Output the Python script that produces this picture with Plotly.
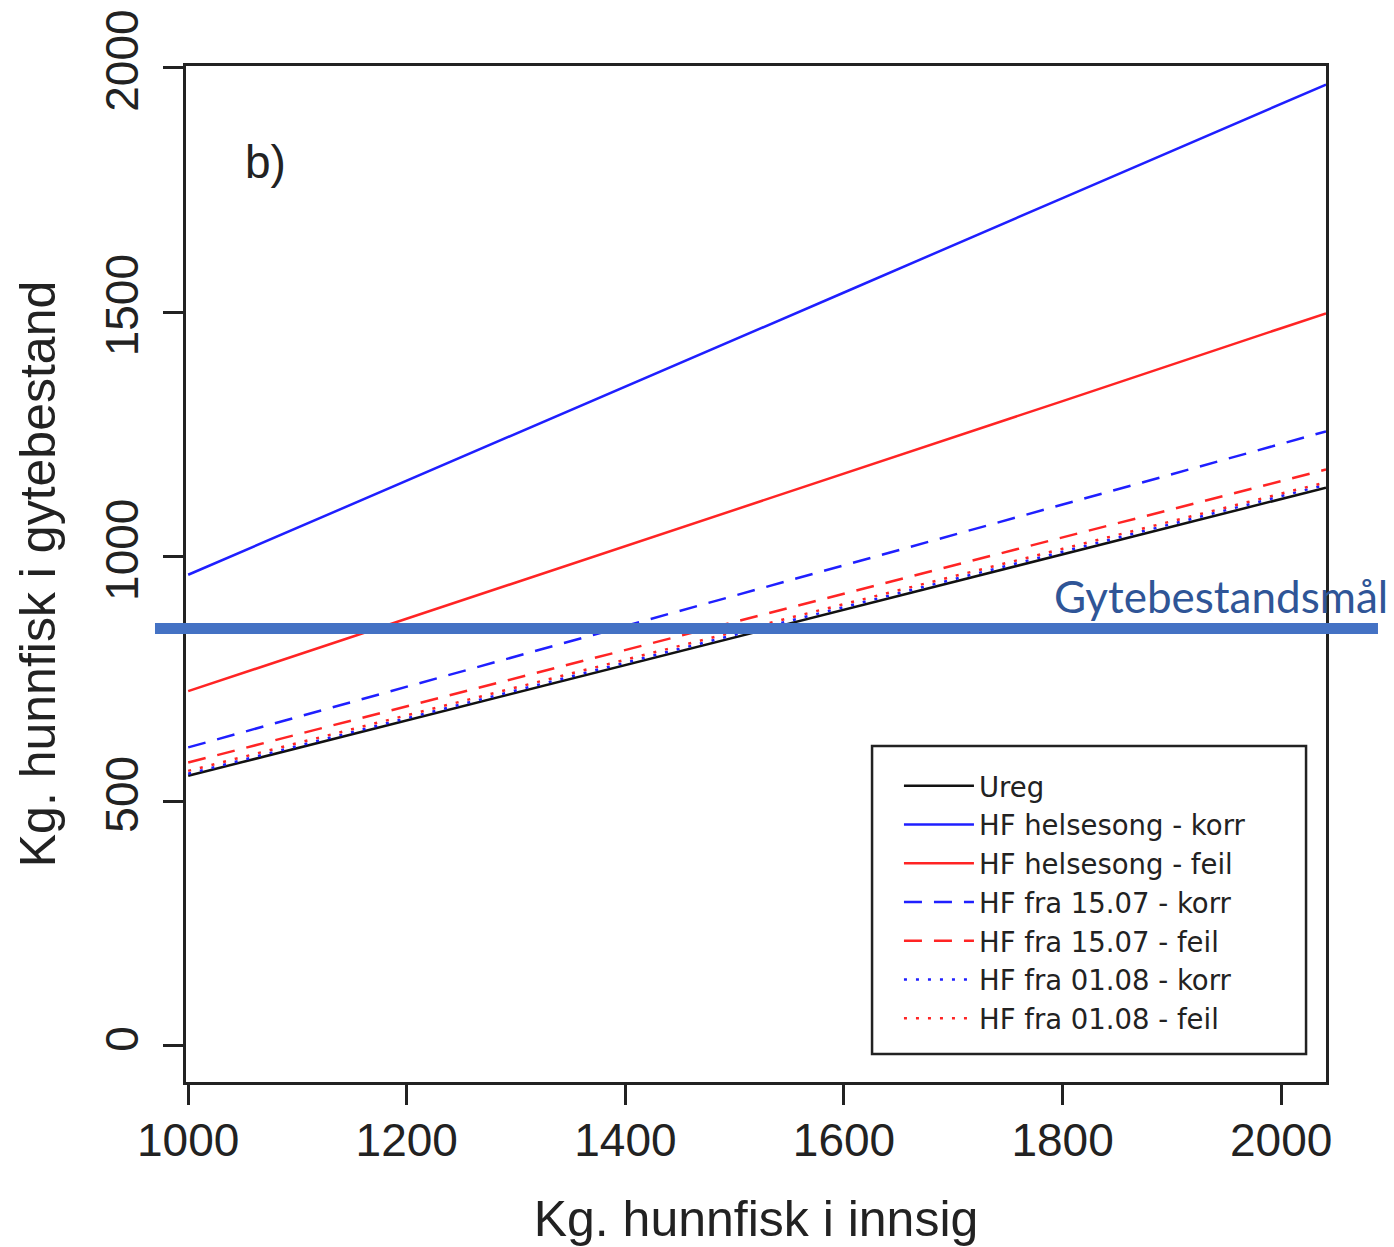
import plotly.graph_objects as go

# ---- data ----
x_innsig = [1000, 1200, 1400, 1600, 1800, 2000, 2041]
ureg = [552, 665, 778, 892, 1005, 1118, 1141]
hf_hel_korr = [963, 1155, 1348, 1540, 1733, 1925, 1965]
hf_hel_feil = [725, 873, 1022, 1170, 1318, 1467, 1497]
hf_1507_korr = [610, 734, 858, 983, 1107, 1231, 1256]
hf_1507_feil = [579, 694, 809, 924, 1039, 1155, 1178]
hf_0108_korr = [556, 670, 783, 897, 1010, 1124, 1147]
hf_0108_feil = [562, 676, 789, 903, 1016, 1130, 1152]
gytebestandsmaal = 853

series_names = ["Ureg", "HF helsesong - korr", "HF helsesong - feil",
                "HF fra 15.07 - korr", "HF fra 15.07 - feil",
                "HF fra 01.08 - korr", "HF fra 01.08 - feil"]
series_values = [ureg, hf_hel_korr, hf_hel_feil, hf_1507_korr, hf_1507_feil,
                 hf_0108_korr, hf_0108_feil]
x_ticks = [1000, 1200, 1400, 1600, 1800, 2000]
y_ticks = [0, 500, 1000, 1500, 2000]

BLUE = "#1f1fff"
RED = "#ff2424"
styles = [("#111111", "solid"), (BLUE, "solid"), (RED, "solid"),
          (BLUE, "18px,12px"), (RED, "18px,12px"),
          (BLUE, "3px,9px"), (RED, "3px,9px")]

fig = go.Figure()
for name, vals, (col, dash) in zip(series_names, series_values, styles):
    fig.add_trace(go.Scatter(x=x_innsig, y=vals, mode="lines", name=name,
                             line=dict(color=col, width=2.5, dash=dash)))

FONT = "Liberation Sans, Arial, sans-serif"
INK = "#222222"

fig.update_layout(
    width=1394, height=1247,
    margin=dict(l=186, r=68, t=66, b=165),
    paper_bgcolor="white", plot_bgcolor="white",
    font=dict(family=FONT, color=INK),
    showlegend=True,
    legend=dict(x=0.6254, y=0.1767, xanchor="left", yanchor="middle",
                borderwidth=0, bgcolor="rgba(0,0,0,0)",
                font=dict(size=27.5, family="DejaVu Sans, sans-serif", color=INK),
                tracegroupgap=0, itemwidth=70),
    xaxis=dict(range=[998, 2041], tickvals=x_ticks, ticks="outside",
               ticklen=20, tickwidth=2.5, tickcolor=INK,
               showline=True, linecolor=INK, linewidth=3, mirror=True,
               showgrid=False, zeroline=False, automargin=False,
               tickfont=dict(size=46, family=FONT, color=INK),
               ticklabelstandoff=-4,
               title=dict(text="Kg. hunnfisk i innsig",
                          font=dict(size=50, family=FONT, color=INK),
                          standoff=38)),
    yaxis=dict(range=[-74, 2003], tickvals=y_ticks, ticks="outside",
               ticklen=20, tickwidth=2.5, tickcolor=INK,
               showline=True, linecolor=INK, linewidth=3, mirror=True,
               showgrid=False, zeroline=False, tickangle=-90, automargin=False,
               tickfont=dict(size=46, family=FONT, color=INK),
               ticklabelstandoff=7,
               title=dict(text="Kg. hunnfisk i gytebestand",
                          font=dict(size=50, family=FONT, color=INK),
                          standoff=25)),
)

# legend frame
fig.add_shape(type="rect", xref="paper", yref="paper",
              x0=0.6018, x1=0.9825, y0=0.0276, y1=0.3307,
              line=dict(color=INK, width=2.5), fillcolor="rgba(0,0,0,0)",
              layer="above")

# target line (extends beyond the plot box)
fig.add_shape(type="line", xref="paper", yref="y",
              x0=-0.0272, x1=1.0456, y0=gytebestandsmaal, y1=gytebestandsmaal,
              line=dict(color="#4472C4", width=11), layer="above")

fig.add_annotation(text="Gytebestandsmål", xref="paper", yref="y",
                   x=1.0562, y=gytebestandsmaal, xanchor="right", yanchor="bottom",
                   yshift=5, showarrow=False,
                   font=dict(size=44, family="Lato, Open Sans, sans-serif", color="#2F5597"))

fig.add_annotation(text="b)", xref="paper", yref="paper", x=0.070, y=0.9055,
                   xanchor="center", yanchor="middle", showarrow=False,
                   font=dict(size=46, family=FONT, color=INK))

fig.write_html("out.html")
